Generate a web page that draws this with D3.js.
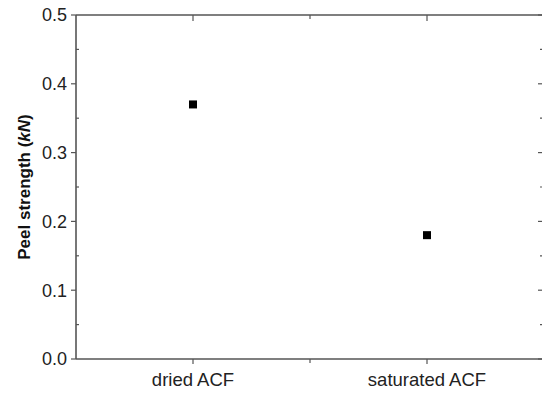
<!DOCTYPE html>
<html><head><meta charset="utf-8">
<script src="https://cdn.jsdelivr.net/npm/d3@7"></script>
<style>body{margin:0;background:#fff}svg{display:block}text{font-family:"Liberation Sans",Arial,sans-serif}</style>
</head><body>
<script>
const categories = ["dried ACF", "saturated ACF"];
const peelStrength = [0.37, 0.18];
const yTicks = [0.0, 0.1, 0.2, 0.3, 0.4, 0.5];
const yMinorTicks = [0.05, 0.15, 0.25, 0.35, 0.45];
const xMinorTicks = [1.5];

const W = 542, H = 395;
const svg = d3.select("body").append("svg").attr("width", W).attr("height", H);
const x = d3.scaleLinear().domain([0.5, 2.5]).range([76, 544]);
const y = d3.scaleLinear().domain([0, 0.5]).range([359, 15]);
const col = "#555";

// frame
const frame = svg.append("g").attr("stroke", col).attr("stroke-width", 1.6).attr("fill", "none");
frame.append("line").attr("x1", x(0.5)).attr("x2", x(2.5)).attr("y1", y(0)).attr("y2", y(0));
frame.append("line").attr("x1", x(0.5)).attr("x2", x(2.5)).attr("y1", y(0.5)).attr("y2", y(0.5));
frame.append("line").attr("x1", x(0.5)).attr("x2", x(0.5)).attr("y1", y(0)).attr("y2", y(0.5));
frame.append("line").attr("x1", x(2.5)).attr("x2", x(2.5)).attr("y1", y(0)).attr("y2", y(0.5));

const ticks = svg.append("g").attr("stroke", col).attr("stroke-width", 1.2);
yTicks.forEach(v => ticks.append("line").attr("x1", x(0.5) - 5).attr("x2", x(0.5)).attr("y1", y(v)).attr("y2", y(v)));
yMinorTicks.forEach(v => ticks.append("line").attr("x1", x(0.5)).attr("x2", x(0.5) + 3).attr("y1", y(v)).attr("y2", y(v)));
yTicks.forEach(v => ticks.append("line").attr("x1", x(2.5) - 6).attr("x2", x(2.5)).attr("y1", y(v)).attr("y2", y(v)));
yMinorTicks.forEach(v => ticks.append("line").attr("x1", x(2.5) - 4).attr("x2", x(2.5)).attr("y1", y(v)).attr("y2", y(v)));
[1, 2].forEach(v => ticks.append("line").attr("x1", x(v)).attr("x2", x(v)).attr("y1", y(0)).attr("y2", y(0) + 5));
xMinorTicks.forEach(v => ticks.append("line").attr("x1", x(v)).attr("x2", x(v)).attr("y1", y(0)).attr("y2", y(0) + 4));
[1, 2].forEach(v => ticks.append("line").attr("x1", x(v)).attr("x2", x(v)).attr("y1", y(0.5)).attr("y2", y(0.5) + 6));
xMinorTicks.forEach(v => ticks.append("line").attr("x1", x(v)).attr("x2", x(v)).attr("y1", y(0.5)).attr("y2", y(0.5) + 4));

svg.append("g").selectAll("text").data(yTicks).join("text")
  .attr("x", 67).attr("y", d => y(d)).attr("dy", "0.35em")
  .attr("text-anchor", "end").attr("font-size", 18).attr("fill", "#222")
  .text(d => d3.format(".1f")(d));

svg.append("g").selectAll("text").data(categories).join("text")
  .attr("x", (d, i) => x(i + 1)).attr("y", 386)
  .attr("text-anchor", "middle").attr("font-size", 18.5).attr("fill", "#222")
  .text(d => d);

const t = svg.append("text").attr("transform", `translate(30,${y(0.25)}) rotate(-90)`)
  .attr("text-anchor", "middle").attr("font-size", 17).attr("font-weight", "bold").attr("fill", "#111");
t.append("tspan").text("Peel strength (");
t.append("tspan").attr("font-style", "italic").text("kN");
t.append("tspan").text(")");

svg.append("g").selectAll("rect").data(peelStrength).join("rect")
  .attr("x", (d, i) => x(i + 1) - 4).attr("y", d => y(d) - 4)
  .attr("width", 8).attr("height", 8).attr("fill", "#000");
</script>
</body></html>
